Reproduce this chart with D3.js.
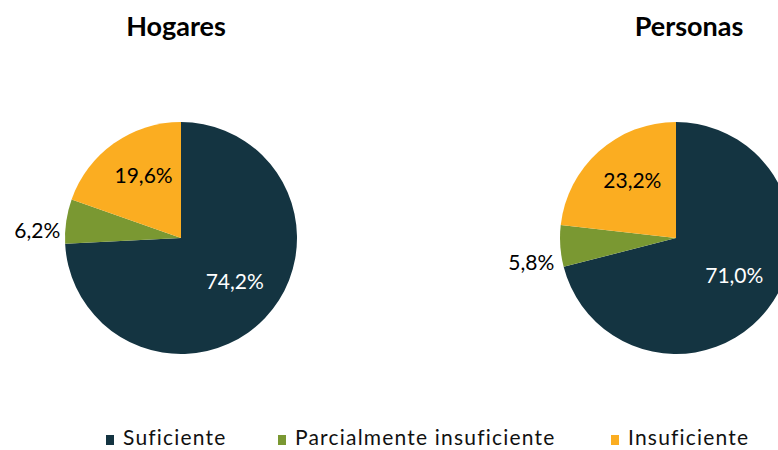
<!DOCTYPE html>
<html><head><meta charset="utf-8">
<script src="https://cdn.jsdelivr.net/npm/d3@7"></script>
<style>body{margin:0;background:#fff}svg{display:block}</style>
</head><body>
<svg id="c" width="778" height="450"></svg>
<script>
const categories = ["Suficiente", "Parcialmente insuficiente", "Insuficiente"];
const charts = ["Hogares", "Personas"];
const hogaresValues = [74.2, 6.2, 19.6];
const personasValues = [71.0, 5.8, 23.2];
const colors = ["#143441", "#7a9832", "#fbad21"];
const labelColors = ["#ffffff", "#000000", "#000000"];

const svg = d3.select("#c");
const font = "Lato, 'Open Sans', sans-serif";
const R = 116;
const centers = [[181, 238], [676, 238]];
const titleX = [176, 689];
const fmt = v => v.toFixed(1).replace(".", ",") + "%";

const pie = d3.pie().sort(null).value(d => d);
const arc = d3.arc().innerRadius(0).outerRadius(R);
const inner = d3.arc().innerRadius(70).outerRadius(70);

[hogaresValues, personasValues].forEach((vals, i) => {
  const g = svg.append("g").attr("transform", `translate(${centers[i][0]},${centers[i][1]})`);
  const arcs = pie(vals);
  g.selectAll("path").data(arcs).enter().append("path")
    .attr("d", arc).attr("fill", (d, j) => colors[j]);
  arcs.forEach((d, j) => {
    if (j === 1) {
      const mid = (d.startAngle + d.endAngle) / 2;
      const x = Math.sin(mid) * (R + 6);
      const y = -Math.cos(mid) * (R + 6);
      g.append("text").attr("x", x).attr("y", y + (i === 1 ? 18 : 12))
        .attr("text-anchor", "end").attr("dominant-baseline", "middle")
        .style("font-family", font).style("font-size", "21px").attr("fill", "#000")
        .text(fmt(vals[j]));
    } else {
      const c = inner.centroid(d);
      g.append("text").attr("x", c[0] + 3).attr("y", c[1] - 3)
        .attr("text-anchor", "middle").attr("dominant-baseline", "middle")
        .style("font-family", font).style("font-size", "21px").attr("fill", labelColors[j])
        .text(fmt(vals[j]));
    }
  });
  svg.append("text").attr("x", titleX[i]).attr("y", 36).attr("text-anchor", "middle")
    .style("font-family", font).style("font-size", "27px").style("font-weight", "bold")
    .text(charts[i]);
});

// legend
const legX = [106, 278, 611];
const lg = svg.append("g");
categories.forEach((c, j) => {
  lg.append("rect").attr("x", legX[j]).attr("y", 435).attr("width", 8).attr("height", 10).attr("fill", colors[j]);
  lg.append("text").attr("x", legX[j] + 17).attr("y", 440).attr("dominant-baseline", "middle")
    .style("font-family", font).style("font-size", "21px").style("letter-spacing", "1.2px")
    .attr("fill", "#111").text(c);
});
</script>
</body></html>
